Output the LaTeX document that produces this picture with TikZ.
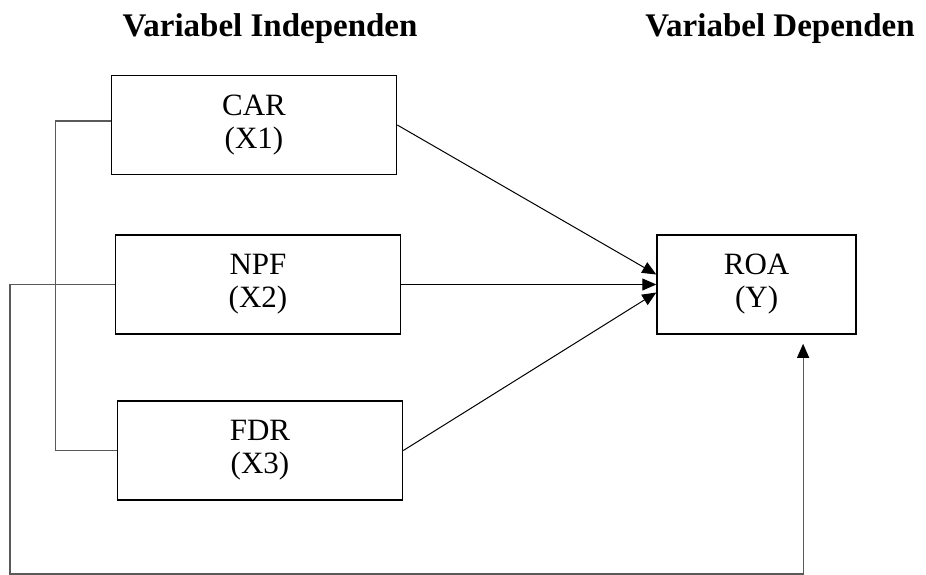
\documentclass[tikz,border=0pt]{standalone}
\usepackage{fontspec}
\setmainfont{Liberation Serif}
\usetikzlibrary{arrows.meta,positioning,calc}

\begin{document}
\begin{tikzpicture}[x=1pt,y=-1pt,% y runs downwards, so positions read as on the page
					every node/.style={
						align=center,  		% "\\" breaks the line inside a box
						font=\fontsize{31}{33}\selectfont
						},
					varbox/.style={rectangle,draw=black,line width=1.6pt,
						minimum width=285pt,minimum height=99pt,inner sep=0pt},
					heading/.style={font=\fontsize{33}{35}\selectfont\bfseries,anchor=base},
					every edge/.style={draw,line width=1pt},
					feed/.style={draw=black!65,line width=1.2pt},
					tip/.style={-{Triangle[length=14pt,width=12pt,color=black]}}
					]
\useasboundingbox (0,0) rectangle (926,575);
% headings
\node[heading](H1) at (270,37){Variabel Independen};
\node[heading](H2) at (780,37){Variabel Dependen};
% variables
\node[varbox](CAR) at (254,125){CAR\\(X1)};
\node[varbox](NPF) at (258,284.5){NPF\\(X2)};
\node[varbox](FDR) at (260,450.5){FDR\\(X3)};
\node[varbox,minimum width=199pt](ROA)[right=255pt of NPF]{ROA\\(Y)};
\path[tip]
(CAR.east)edge []	node [] {} ($(ROA.west)+(0,-10)$)
(NPF)edge []	node [] {} (ROA)
(FDR.east)edge []	node [] {} ($(ROA.west)+(0,8)$)
;
% joint lines on the left
\draw[feed] ($(CAR.west)+(0,-4)$) -- ++(-55,0) |- (FDR.west);
\draw[feed,tip] (NPF.west) -| (10,574) -| ($(ROA.south)+(46.5,9)$);
\end{tikzpicture}
\end{document}
